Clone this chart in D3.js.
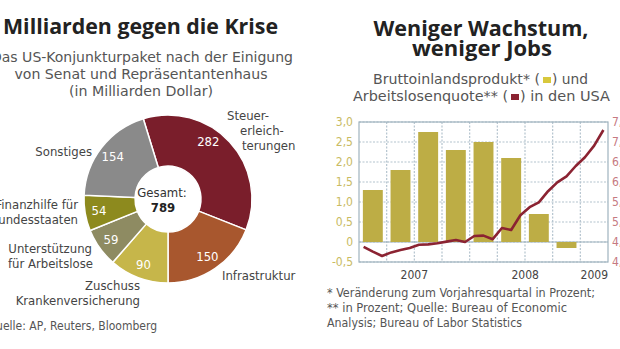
<!DOCTYPE html>
<html>
<head>
<meta charset="utf-8">
<script src="https://cdn.jsdelivr.net/npm/d3@7"></script>
<style>
  html, body { margin: 0; padding: 0; background: #fff; overflow: hidden; }
  svg { display: block; }
  text { font-family: "Liberation Sans Narrow", "DejaVu Sans Condensed", "Arial Narrow", sans-serif; }
  .bold { font-family: "Open Sans", "DejaVu Sans", sans-serif; font-weight: 700; }
</style>
</head>
<body>
<svg id="chart" width="620" height="349"></svg>
<script>
// ---- Konjunkturpaket (Milliarden Dollar) ----
const pieCategories = ["Steuererleichterungen", "Infrastruktur", "Zuschuss Krankenversicherung",
                       "Unterstützung für Arbeitslose", "Finanzhilfe für Bundesstaaten", "Sonstiges"];
const pieValues = [282, 150, 90, 59, 54, 154];
const pieColors = ["#7a1e2b", "#a8572e", "#c6b64a", "#8e8b62", "#8d8a1e", "#8a8a8a"];
const pieTotalLabel = "Gesamt:";

// ---- BIP (Quartale, Veränderung zum Vorjahresquartal in %) ----
const quarters = ["2007Q1", "2007Q2", "2007Q3", "2007Q4", "2008Q1", "2008Q2", "2008Q3", "2008Q4", "2009Q1"];
const gdpGrowth = [1.3, 1.8, 2.75, 2.3, 2.5, 2.1, 0.7, -0.15, null];

// ---- Arbeitslosenquote (Monate, in %) ----
const months = ["2007-01", "2007-02", "2007-03", "2007-04", "2007-05", "2007-06", "2007-07", "2007-08", "2007-09",
                "2007-10", "2007-11", "2007-12", "2008-01", "2008-02", "2008-03", "2008-04", "2008-05", "2008-06",
                "2008-07", "2008-08", "2008-09", "2008-10", "2008-11", "2008-12", "2009-01", "2009-02", "2009-03"];
const unemployment = [4.38, 4.26, 4.15, 4.24, 4.3, 4.35, 4.43, 4.44, 4.47, 4.51, 4.55, 4.5, 4.65, 4.66, 4.57,
                      4.85, 4.8, 5.17, 5.37, 5.49, 5.77, 5.99, 6.14, 6.4, 6.62, 6.91, 7.3];

const years = ["2007", "2008", "2009"];
const leftTicks = [-0.5, 0, 0.5, 1, 1.5, 2, 2.5, 3];
const leftTickLabels = ["-0,5", "0", "0,5", "1,0", "1,5", "2,0", "2,5", "3,0"];
const rightTicks = [4, 4.5, 5, 5.5, 6, 6.5, 7, 7.5];
const rightTickLabels = ["4,0", "4,5", "5,0", "5,5", "6,0", "6,5", "7,0", "7,5"];

const svg = d3.select("#chart");

// Helper for text lines
function label(x, y, str, opts = {}) {
  const t = svg.append("text")
    .attr("x", x).attr("y", y)
    .attr("font-size", opts.size || 13)
    .attr("fill", opts.fill || "#444")
    .attr("text-anchor", opts.anchor || "start")
    .text(str);
  if (opts.bold) t.attr("class", "bold");
  if (opts.len) t.attr("textLength", opts.len).attr("lengthAdjust", "spacingAndGlyphs");
  return t;
}

// ================= Left panel: donut =================
label(3, 34, "Milliarden gegen die Krise", {size: 22, bold: true, fill: "#222", len: 275});
label(-9, 62, "Das US-Konjunkturpaket nach der Einigung", {size: 14, fill: "#555", len: 302});
label(141, 79, "von Senat und Repräsentantenhaus", {size: 14, fill: "#555", anchor: "middle", len: 253});
label(141, 96, "(in Milliarden Dollar)", {size: 14, fill: "#555", anchor: "middle", len: 144});

const cx = 168, cy = 199, rOuter = 84, rInner = 33;
const total = d3.sum(pieValues);
// Tax relief and infrastructure together fill the right half, ending at 6 o'clock
const start = Math.PI - 2 * Math.PI * (pieValues[0] + pieValues[1]) / total;
const pie = d3.pie().sort(null).startAngle(start).endAngle(start + 2 * Math.PI);
const arcs = pie(pieValues);
const arc = d3.arc().innerRadius(rInner).outerRadius(rOuter);

const g = svg.append("g").attr("transform", `translate(${cx},${cy})`);
g.selectAll("path").data(arcs).join("path")
  .attr("d", arc)
  .attr("fill", (d, i) => pieColors[i])
  .attr("stroke", "#fff").attr("stroke-width", 1.5);

const labelShift = [-0.21, 0, 0, 0, 0, 0];
g.selectAll("text.val").data(arcs).join("text")
  .attr("class", "val")
  .attr("x", (d, i) => 70 * Math.sin((d.startAngle + d.endAngle) / 2 + labelShift[i]))
  .attr("y", (d, i) => -70 * Math.cos((d.startAngle + d.endAngle) / 2 + labelShift[i]))
  .attr("dy", "0.35em")
  .attr("text-anchor", "middle")
  .attr("font-size", 13)
  .attr("fill", "#fff")
  .text(d => d.data);

g.append("text").attr("x", -6).attr("y", -2).attr("text-anchor", "middle")
  .attr("font-size", 13).attr("fill", "#333").text(pieTotalLabel);
g.append("text").attr("x", -5).attr("y", 13).attr("text-anchor", "middle")
  .attr("font-size", 13).attr("font-weight", "bold").attr("fill", "#222").text(total);

// Category labels
label(227, 120, "Steuer-");
label(240, 135, "erleich-");
label(242, 150, "terungen");
label(222, 280, "Infrastruktur");
label(140, 290, "Zuschuss", {anchor: "end"});
label(140, 305, "Krankenversicherung", {anchor: "end"});
label(92, 253, "Unterstützung", {anchor: "end"});
label(93, 268, "für Arbeitslose", {anchor: "end"});
label(78, 209, "Finanzhilfe für", {anchor: "end"});
label(78, 224, "Bundesstaaten", {anchor: "end"});
label(92, 156, "Sonstiges", {anchor: "end"});
label(157, 330, "Quelle: AP, Reuters, Bloomberg", {anchor: "end", size: 12, fill: "#555"});

// ================= Right panel: GDP bars + unemployment line =================
label(481, 36, "Weniger Wachstum,", {size: 21, bold: true, fill: "#222", anchor: "middle", len: 215});
label(482, 56, "weniger Jobs", {size: 21, bold: true, fill: "#222", anchor: "middle", len: 140});

label(373, 84, "Bruttoinlandsprodukt* (", {size: 14, fill: "#555", len: 167});
label(552, 84, ") und", {size: 14, fill: "#555", len: 36});
label(353, 101, "Arbeitslosenquote** (", {size: 14, fill: "#555", len: 155});
label(520, 101, ") in den USA", {size: 14, fill: "#555", len: 90});
svg.append("rect").attr("x", 543).attr("y", 77).attr("width", 8).attr("height", 6).attr("fill", "#d8c83c");
svg.append("rect").attr("x", 511).attr("y", 94).attr("width", 8).attr("height", 6).attr("fill", "#8b2332");

const plotL = 359, plotR = 608, plotT = 122, plotB = 262;

const xQ = d3.scaleBand().domain(quarters).range([plotL, plotR]).paddingInner(0.28).paddingOuter(0.14);
const xM = d3.scaleBand().domain(months).range([plotL, plotR]);
const yL = d3.scaleLinear().domain([-0.5, 3]).range([plotB, plotT]);
const yR = d3.scaleLinear().domain([4, 7.5]).range([plotB, plotT]);

const gridColor = "#b4c4ce";
// horizontal grid (dotted)
svg.append("g").selectAll("line").data(leftTicks).join("line")
  .attr("x1", plotL).attr("x2", plotR)
  .attr("y1", d => yL(d)).attr("y2", d => yL(d))
  .attr("stroke", gridColor).attr("stroke-width", 1.2).attr("stroke-dasharray", "2,1.5");
// vertical grid at quarter boundaries (dotted)
svg.append("g").selectAll("line").data(quarters.slice(1)).join("line")
  .attr("x1", d => xQ(d) - xQ.step() * xQ.paddingInner() / 2)
  .attr("x2", d => xQ(d) - xQ.step() * xQ.paddingInner() / 2)
  .attr("y1", plotT).attr("y2", plotB)
  .attr("stroke", gridColor).attr("stroke-width", 1.2).attr("stroke-dasharray", "2,1.5");
// zero line and frame
svg.append("line").attr("x1", plotL).attr("x2", plotR).attr("y1", yL(0)).attr("y2", yL(0))
  .attr("stroke", "#9fb3bf").attr("stroke-width", 1);
svg.append("rect").attr("x", plotL).attr("y", plotT).attr("width", plotR - plotL).attr("height", plotB - plotT)
  .attr("fill", "none").attr("stroke", "#9fb3bf").attr("stroke-width", 1.2);

// GDP bars
svg.append("g").selectAll("rect").data(quarters.map((q, i) => ({q, v: gdpGrowth[i]})).filter(d => d.v !== null))
  .join("rect")
  .attr("x", d => xQ(d.q)).attr("width", xQ.bandwidth())
  .attr("y", d => yL(Math.max(0, d.v)))
  .attr("height", d => Math.abs(yL(d.v) - yL(0)))
  .attr("fill", "#bdad45");

// Unemployment line
const line = d3.line()
  .x((d, i) => xM(months[i]) + xM.bandwidth() / 2)
  .y(d => yR(d))
  .curve(d3.curveLinear);
svg.append("path").datum(unemployment).attr("d", line)
  .attr("fill", "none").attr("stroke", "#8b2332").attr("stroke-width", 2.6)
  .attr("stroke-linejoin", "round");

// Axes
const axL = svg.append("g").attr("transform", `translate(${plotL - 6},0)`)
  .call(d3.axisLeft(yL).tickValues(leftTicks).tickSize(0).tickPadding(0)
    .tickFormat((d, i) => leftTickLabels[i]));
axL.select(".domain").remove();
axL.selectAll("text").attr("font-size", 12).attr("fill", "#c9bb63")
  .style("font-family", '"Liberation Sans Narrow", "DejaVu Sans Condensed", sans-serif');

const axR = svg.append("g").attr("transform", `translate(${plotR + 4},0)`)
  .call(d3.axisRight(yR).tickValues(rightTicks).tickSize(0).tickPadding(0)
    .tickFormat((d, i) => rightTickLabels[i]));
axR.select(".domain").remove();
axR.selectAll("text").attr("font-size", 12).attr("fill", "#c67a82")
  .style("font-family", '"Liberation Sans Narrow", "DejaVu Sans Condensed", sans-serif');

// Year labels centred on each year's span
const xT = d3.scaleTime().domain([new Date(2007, 0, 1), new Date(2009, 3, 1)]).range([plotL, plotR]);
svg.append("g").selectAll("text").data(years).join("text")
  .attr("x", d => {
    const a = new Date(+d, 0, 1);
    const b = d === "2009" ? new Date(2009, 3, 1) : new Date(+d + 1, 0, 1);
    return (xT(a) + xT(b)) / 2;
  })
  .attr("y", 279).attr("text-anchor", "middle")
  .attr("font-size", 12).attr("fill", "#444").text(d => d);

// Footnotes
label(327, 297, "* Veränderung zum Vorjahresquartal in Prozent;", {size: 12, fill: "#555", len: 268});
label(327, 312, "** in Prozent; Quelle: Bureau of Economic", {size: 12, fill: "#555", len: 240});
label(327, 327, "Analysis; Bureau of Labor Statistics", {size: 12, fill: "#555", len: 195});
</script>
</body>
</html>
